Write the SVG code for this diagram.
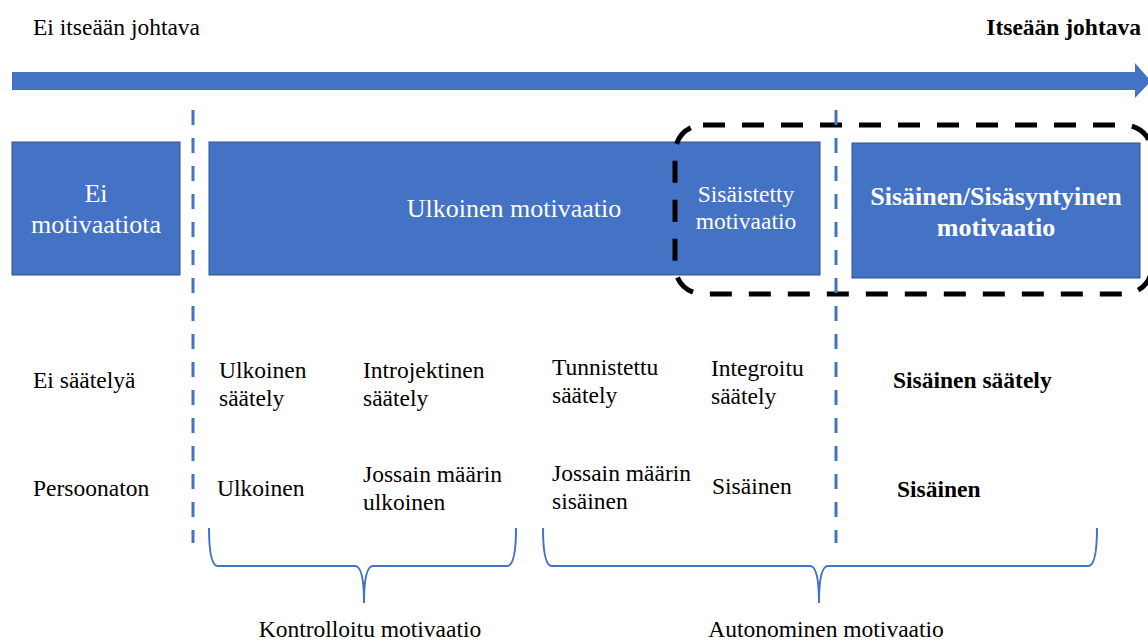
<svg xmlns="http://www.w3.org/2000/svg" width="1148" height="643" viewBox="0 0 1148 643">
  <style>
    .t { font-family: "Liberation Serif", "Times New Roman", serif; font-size: 23.5px; fill: #000; }
    .b { font-weight: bold; }
    .box { fill: #4472C4; stroke: #2F528F; stroke-width: 1; }
    .bt { font-family: "Liberation Serif", "Times New Roman", serif; font-size: 26px; fill: #fff; text-anchor: middle; }
    .vdash { stroke: #4472C4; stroke-width: 3; stroke-dasharray: 15 13; fill: none; }
    .brace { stroke: #4472C4; stroke-width: 2; fill: none; }
  </style>

  <!-- scale arrow -->
  <g id="scale">
    <text class="t" x="33" y="35">Ei itseään johtava</text>
    <text class="t b" x="1141" y="35" text-anchor="end">Itseään johtava</text>
    <polygon points="12,72 1135,72 1135,63 1151,81 1135,98 1135,90 12,90" fill="#4472C4"/>
  </g>

  <!-- motivation boxes -->
  <g id="amotivation">
    <rect class="box" x="12" y="142" width="168" height="133"/>
    <text class="bt" x="96" y="202">Ei</text>
    <text class="bt" x="96" y="233">motivaatiota</text>
  </g>
  <g id="extrinsic">
    <rect class="box" x="209" y="142" width="611" height="133"/>
    <text class="bt" x="514" y="217">Ulkoinen motivaatio</text>
    <text class="bt" x="746" y="202" style="font-size:23.5px">Sisäistetty</text>
    <text class="bt" x="746" y="229" style="font-size:23.5px">motivaatio</text>
  </g>
  <g id="intrinsic">
    <rect class="box" x="852" y="143" width="288" height="135"/>
    <text class="bt" x="996" y="205" font-weight="bold">Sisäinen/Sisäsyntyinen</text>
    <text class="bt" x="996" y="236" font-weight="bold">motivaatio</text>
  </g>

  <!-- highlight frame around internalised and intrinsic motivation -->
  <g id="highlight">
    <rect x="675" y="125" width="477" height="169" rx="28" ry="28" fill="none" stroke="#000" stroke-width="5" stroke-dasharray="22 17"/>
  </g>

  <!-- regulation row -->
  <g id="regulation">
    <text class="t" x="33" y="388">Ei säätelyä</text>
    <text class="t" x="219" y="378">Ulkoinen</text>
    <text class="t" x="219" y="406">säätely</text>
    <text class="t" x="363" y="378">Introjektinen</text>
    <text class="t" x="363" y="406">säätely</text>
    <text class="t" x="552" y="375">Tunnistettu</text>
    <text class="t" x="552" y="403">säätely</text>
    <text class="t" x="711" y="376">Integroitu</text>
    <text class="t" x="711" y="404">säätely</text>
    <text class="t b" x="893" y="388">Sisäinen säätely</text>
  </g>

  <!-- locus of causality row -->
  <g id="locus">
    <text class="t" x="33" y="496">Persoonaton</text>
    <text class="t" x="217" y="496">Ulkoinen</text>
    <text class="t" x="363" y="482">Jossain määrin</text>
    <text class="t" x="363" y="510">ulkoinen</text>
    <text class="t" x="552" y="481">Jossain määrin</text>
    <text class="t" x="552" y="509">sisäinen</text>
    <text class="t" x="712" y="494">Sisäinen</text>
    <text class="t b" x="897" y="497">Sisäinen</text>
  </g>

  <!-- dashed dividers and braces -->
  <g id="connectors">
    <line class="vdash" x1="193" y1="110" x2="193" y2="543"/>
    <line class="vdash" x1="836" y1="110" x2="836" y2="543"/>
    <path class="brace" d="M209,528 Q209,566 218,566 L355,566 Q364,566 364,603 Q364,566 373,566 L507,566 Q516,566 516,528"/>
    <path class="brace" d="M543,528 Q543,566 552,566 L810,566 Q819,566 819,603 Q819,566 828,566 L1088,566 Q1097,566 1097,528"/>
  </g>

  <g id="groups">
    <text class="t" x="370" y="637" text-anchor="middle">Kontrolloitu motivaatio</text>
    <text class="t" x="826" y="637" text-anchor="middle">Autonominen motivaatio</text>
  </g>
</svg>
